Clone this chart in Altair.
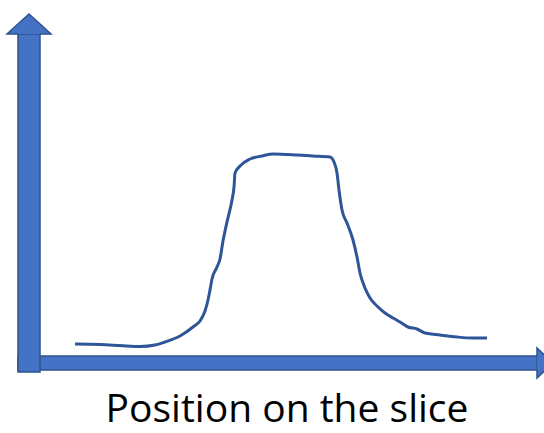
import altair as alt
import pandas as pd

# Intensity profile across the slice (position, signal)
pos = [46, 71, 91, 111, 126, 136, 151, 164, 171, 176, 179, 181, 183, 188, 191, 194,
       198, 203, 205, 206, 211, 221, 233, 244, 268, 284, 301, 305, 308, 310, 313,
       318, 324, 328, 331, 336, 341, 348, 356, 364, 371, 379, 388, 396, 411, 428,
       444, 458]
signal = [19, 18.5, 17.5, 16.5, 18, 21, 27, 36, 42, 52, 63, 73, 84, 96, 104, 122,
          141, 163, 176, 190, 197, 204, 207, 209, 208, 207, 206, 201, 190, 173, 153,
          140, 123, 106, 90, 75, 65, 57, 50, 45, 41, 36, 34, 30, 28, 26, 25, 25]

# Axis arrows: shaft extents and arrow-head geometry
x_axis_shaft = {"x": -11, "x2": 508, "y": -7, "y2": 7}
y_axis_shaft = {"x": -11, "x2": 11, "y": -9, "y2": 329}
x_head = [(508, 15), (524, 0), (508, -15)]
y_head = [(-22, 329), (0, 349), (22, 329)]
x_head_outline = [(508, 7), (508, 15), (524, 0), (508, -15), (508, -7)]
y_head_outline = [(11, 329), (22, 329), (0, 349), (-22, 329), (-11, 329)]

label = "Position on the slice"
label_pos = (258, -59)

FILL = "#4472C4"
EDGE = "#2F528F"
CURVE = "#2E5597"

xs = alt.Scale(domain=[-29, 515], nice=False, zero=False)
ys = alt.Scale(domain=[-70, 363], nice=False, zero=False)
X = lambda f: alt.X(f, type="quantitative", scale=xs, axis=None)
Y = lambda f: alt.Y(f, type="quantitative", scale=ys, axis=None)


def shaft(d):
    return alt.Chart(pd.DataFrame([d])).mark_rect(
        fill=FILL, stroke=EDGE, strokeWidth=1.5
    ).encode(x=X("x"), x2="x2", y=Y("y"), y2="y2")


def outline(pts):
    df = pd.DataFrame(pts, columns=["x", "y"])
    df["i"] = range(len(df))
    return alt.Chart(df).mark_line(color=EDGE, strokeWidth=1.5).encode(
        x=X("x"), y=Y("y"), order="i:Q"
    )


xh = pd.DataFrame(x_head, columns=["x", "y"])
xh["base"] = 508
x_head_fill = alt.Chart(xh).mark_area(
    fill=FILL, orient="horizontal", clip=True
).encode(y=Y("y"), x=X("x"), x2="base")

yh = pd.DataFrame(y_head, columns=["x", "y"])
yh["base"] = 329
y_head_fill = alt.Chart(yh).mark_area(fill=FILL, orient="vertical").encode(
    x=X("x"), y=Y("y"), y2="base"
)

curve = alt.Chart(pd.DataFrame({"pos": pos, "signal": signal})).mark_line(
    color=CURVE, strokeWidth=3, interpolate="monotone"
).encode(x=X("pos"), y=Y("signal"))

text = alt.Chart(
    pd.DataFrame({"x": [label_pos[0]], "y": [label_pos[1]], "t": [label]})
).mark_text(
    font="Open Sans", fontSize=39, color="#000000", align="center",
    baseline="alphabetic"
).encode(x=X("x"), y=Y("y"), text="t:N")

chart = alt.layer(
    curve,
    shaft(x_axis_shaft),
    x_head_fill,
    outline(x_head_outline),
    shaft(y_axis_shaft),
    y_head_fill,
    outline(y_head_outline),
    text,
).properties(
    width=544, height=433, padding=0, autosize="none", background="white"
).configure_view(stroke=None)

chart.save("out.html", embed_options={"renderer": "svg", "actions": False})
